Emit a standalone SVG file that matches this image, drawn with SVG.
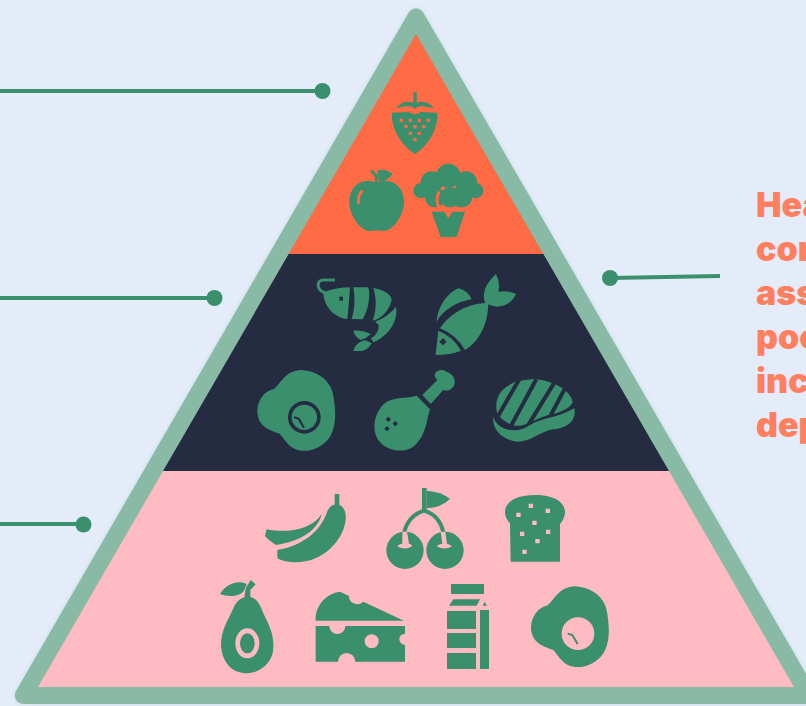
<svg xmlns="http://www.w3.org/2000/svg" width="806" height="706" viewBox="0 0 806 706">
<style>
.g{fill:#3A8F6D}
.s{fill:none;stroke:#3A8F6D;stroke-linecap:butt}
.o{fill:#FF6B45}
.d{fill:#252B40}
.p{fill:#FFBBC2}
.line{stroke:#3A8F6D;stroke-width:4;fill:none}
.t{font-family:Inter,"Liberation Sans",sans-serif;font-weight:900;font-size:34px;fill:#FF7F5F}
</style>
<defs>
<filter id="soft" x="-5%" y="-5%" width="110%" height="110%"><feGaussianBlur stdDeviation="2"/></filter>
<clipPath id="tri"><path d="M416,34 L794,687 H38Z"/></clipPath>
<path id="egg" d="M52,455 C52,420 75,392 100,388 C120,375 135,330 185,330 C240,335 278,365 282,420 C288,460 288,500 270,530 C250,560 215,575 185,572 C150,570 135,540 120,522 C95,510 55,505 52,455Z"/>
</defs>
<rect width="806" height="706" fill="#E4ECFA"/>
<g id="pyramid">
<path d="M416,17 L808.7,695.5 H23.3Z" fill="#89BAA5" stroke="#89BAA5" stroke-width="17" stroke-linejoin="round" opacity=".35" filter="url(#soft)"/>
<path d="M416,17 L808.7,695.5 H23.3Z" fill="#89BAA5" stroke="#89BAA5" stroke-width="17" stroke-linejoin="round"/>
<g clip-path="url(#tri)">
<rect x="0" y="0" width="806" height="254" fill="#FF6B45"/>
<rect x="0" y="254" width="806" height="217" fill="#252B40"/>
<rect x="0" y="471" width="806" height="216" fill="#FFBBC2"/>
</g>
</g>
<g id="tier-top" transform="translate(300 0) scale(.3333)">
<g id="strawberry">
<rect class="g" x="340" y="276" width="10" height="36"/>
<path class="g" d="M288,325 C300,306 328,298 345,312 C362,298 390,306 402,325 L372,319 Q356,316 345,326 Q334,316 318,319Z"/>
<path class="g" d="M276,338 L328,336 Q345,350 362,336 L412,338 C416,390 380,440 345,462 C310,440 272,390 276,338Z"/>
<path class="o" d="M299,356h10v10h-10zM326,356h10v10h-10zM353,356h10v10h-10zM380,356h10v10h-10zM313,375h10v10h-10zM340,375h10v10h-10zM367,375h10v10h-10zM326,395h10v10h-10zM353,395h10v10h-10zM340,414h10v10h-10z"/>
</g>
<g id="apple">
<path class="g" d="M230,548 C200,535 150,545 148,605 C148,650 185,695 212,693 Q230,688 248,693 C275,695 312,650 312,605 C310,545 260,535 230,548Z"/>
<path class="s" stroke-width="10" d="M214,512 L229,528 V548" style="stroke-width:9"/>
<path class="g" d="M232,512 Q255,503 278,522 Q258,548 236,544Z"/>
<path d="M188,572 Q172,585 176,612" fill="none" stroke="#FF6B45" stroke-width="9"/>
</g>
<g id="broccoli">
<circle class="g" cx="445" cy="527" r="36"/><circle class="g" cx="395" cy="547" r="33"/><circle class="g" cx="498" cy="547" r="33"/>
<circle class="g" cx="363" cy="572" r="23"/><circle class="g" cx="527" cy="572" r="23"/><circle class="g" cx="405" cy="592" r="30"/><circle class="g" cx="450" cy="592" r="30"/><circle class="g" cx="485" cy="590" r="32"/>
<path d="M418,575 Q402,600 422,632" fill="none" stroke="#FF6B45" stroke-width="9"/>
<path class="g" d="M395,635 H433 L445,655 L457,635 H495 L470,711 H422Z"/>
</g>
</g>
<g id="tier-middle" transform="translate(240 260) scale(.3333)">
<g id="shrimp">
<path class="s" stroke-width="9" d="M285,60 H248 Q232,62 235,80 Q240,95 255,97"/>
<path class="g" d="M250,97 Q290,82 330,82 C328,120 325,150 322,177 C285,175 250,140 250,97Z"/>
<rect class="d" x="298" y="110" width="11" height="12"/>
<path class="g" d="M340,82 L385,82 C392,110 385,150 368,178 L335,177 C345,145 345,115 340,82Z"/>
<path class="g" d="M400,84 C430,88 455,105 455,120 C450,145 430,175 398,182 C410,150 410,115 400,84Z"/>
<path class="g" d="M468,140 C475,180 450,225 400,247 L393,235 Q418,220 416,195 L405,185 Q445,170 468,140Z"/>
<path class="g" d="M340,212 Q365,210 393,222 Q380,235 362,240 Q345,232 340,212Z"/>
<path class="g" d="M340,273 Q345,248 375,240 L395,250 Q385,270 365,273Z"/>
</g>
<g id="fish">
<path class="g" d="M590,185 C595,130 630,95 655,85 Q685,92 695,118 C650,125 610,150 590,185Z"/>
<path class="g" d="M600,205 C630,160 680,130 745,128 C745,180 725,240 675,270 Q650,225 600,205Z"/>
<path class="g" d="M595,212 Q640,230 663,272 Q630,285 587,285Z"/>
<path class="d" d="M609,234 L620,245 L609,256 L598,245Z"/>
<path class="g" d="M735,128 Q720,85 768,42 Q782,70 775,95 Q800,90 828,102 Q810,140 770,140 Q745,135 735,128Z"/>
</g>
<g id="egg-dark">
<use href="#egg" class="g"/>
<circle cx="193" cy="472" r="49" class="d"/><circle cx="193" cy="472" r="38" class="g"/>
<path d="M162,472 L176,476 L192,503" fill="none" stroke="#252B40" stroke-width="6"/>
</g>
<g id="drumstick">
<path class="g" d="M547,405 L592,360 C570,340 600,320 620,335 C650,345 655,385 620,392 L610,390 L572,432Z"/>
<path class="g" d="M530,407 L570,448 C560,480 558,530 520,560 C490,580 440,575 415,540 C395,510 400,455 440,425 C470,410 510,415 530,407Z"/>
<path class="d" d="M445,470l8,8l-8,8l-8,-8zM466,483l8,8l-8,8l-8,-8zM441,498l8,8l-8,8l-8,-8z"/>
</g>
<g id="steak">
<path class="g" d="M772,462 C762,420 775,385 832,363 L880,357 C930,360 990,385 998,425 Q995,445 940,462 C900,470 880,485 850,495 C820,505 790,485 772,462Z"/>
<path d="M773,470 L838,358 M812,500 L889,358 M865,495 L945,365 M930,470 L975,385" fill="none" stroke="#252B40" stroke-width="12"/>
<path class="g" d="M760,470 C770,510 830,525 870,495 C900,475 950,475 1003,445 C1010,475 990,500 950,507 C900,510 880,545 830,545 C790,540 755,510 760,470Z"/>
</g>
</g>
<g id="tier-bottom-left" transform="translate(200 480) scale(.3333)">
<g id="banana">
<rect class="g" x="404" y="42" width="14" height="35"/>
<path class="g" d="M232,210 C290,200 350,170 378,105 Q385,75 410,72 C430,75 440,95 437,120 C430,180 370,250 280,247 Q250,245 232,235Z"/>
<path class="g" d="M200,148 C260,160 335,150 365,102 C355,150 300,185 228,195 Q205,180 195,168Z"/>
</g>
<g id="avocado">
<path class="g" d="M142,350 C175,350 180,380 195,410 C215,450 225,480 218,520 C205,565 165,580 140,580 C100,578 70,555 63,500 C62,450 85,420 100,385 C110,360 125,352 142,350Z"/>
<path class="g" d="M133,355 L137,325 L152,300 L167,313 L151,330 L151,355Z"/>
<path class="g" d="M60,342 C80,310 115,300 140,312 L132,332 C120,350 85,352 60,342Z"/>
<ellipse class="p" cx="142" cy="490" rx="36" ry="45"/><ellipse class="g" cx="142" cy="490" rx="22" ry="30"/>
</g>
<g id="cheese">
<path class="g" d="M347,422 C345,375 380,340 420,335 L447,348 A25,25 0 0 0 490,365 L612,422Z"/>
<path class="g" fill-rule="evenodd" d="M347,438 H388 A24,24 0 0 0 436,438 H615 V461 A17,17 0 0 0 615,495 V545 H466 A26,26 0 0 0 414,545 H347Z M494,484 a21,21 0 1 0 42,0 a21,21 0 1 0 -42,0Z"/>
</g>
</g>
<g id="tier-bottom-right" transform="translate(400 480) scale(.3333)">
<g id="cherries">
<path class="s" stroke-width="12" d="M12,158 C22,120 45,100 72,92 C100,100 122,120 130,158" style="stroke-width:12"/>
<rect class="g" x="66" y="24" width="14" height="70"/>
<path class="g" d="M80,32 Q125,35 150,57 Q120,85 80,84Z"/>
<circle class="g" cx="15" cy="211" r="56"/><circle class="g" cx="135" cy="211" r="56"/>
<path class="p" d="M7,155 H21 L27,191 Q38,194 36,199 Q15,212 -8,199 Q-4,192 7,191Z M122,155 H136 L141,191 Q152,194 156,199 Q133,212 110,199 Q116,192 127,191Z"/>
</g>
<g id="bread">
<path class="g" d="M330,130 C300,100 310,45 405,45 C500,45 510,100 480,132 V245 H332Z"/>
<path class="p" d="M386,71h13v13h-13zM349,98h13v13h-13zM437,86h13v13h-13zM397,122h13v13h-13zM360,155h13v13h-13zM438,149h13v13h-13zM406,177h13v13h-13zM367,209h13v13h-13z"/>
</g>
<g id="milk">
<rect class="g" x="153" y="312" width="99" height="30"/>
<path class="g" d="M160,358 H240 L230,377 H147Z"/>
<path class="g" d="M248,377 L254,365 L261,377Z"/>
<rect class="g" x="141" y="393" width="87" height="54"/>
<rect class="g" x="141" y="459" width="87" height="45"/>
<rect class="g" x="141" y="519" width="87" height="48"/>
<rect class="g" x="240" y="390" width="27" height="177"/>
</g>
<g id="egg-pink" transform="translate(341 -11)">
<use href="#egg" class="g"/>
<circle cx="193" cy="472" r="49" class="p"/>
<path d="M162,472 L176,476 L192,503" fill="none" stroke="#3A8F6D" stroke-width="6"/>
</g>
</g>
<g id="connectors">
<path class="line" d="M0,91 H322"/>
<path class="line" d="M0,298 H214"/>
<path class="line" d="M0,524 H83"/>
<path class="line" d="M610,278 L720,276"/>
<circle class="g" cx="322.500" cy="91" r="8"/>
<circle class="g" cx="214.500" cy="298" r="8"/>
<circle class="g" cx="83.500" cy="524.500" r="8"/>
<circle class="g" cx="610" cy="278" r="8"/>
</g>
<g id="caption" class="t">
<text x="756" y="217">Hea</text>
<text x="756" y="261">con</text>
<text x="756" y="305">ass</text>
<text x="756" y="349">poo</text>
<text x="756" y="393">inc</text>
<text x="756" y="437">dep</text>
</g>
</svg>
